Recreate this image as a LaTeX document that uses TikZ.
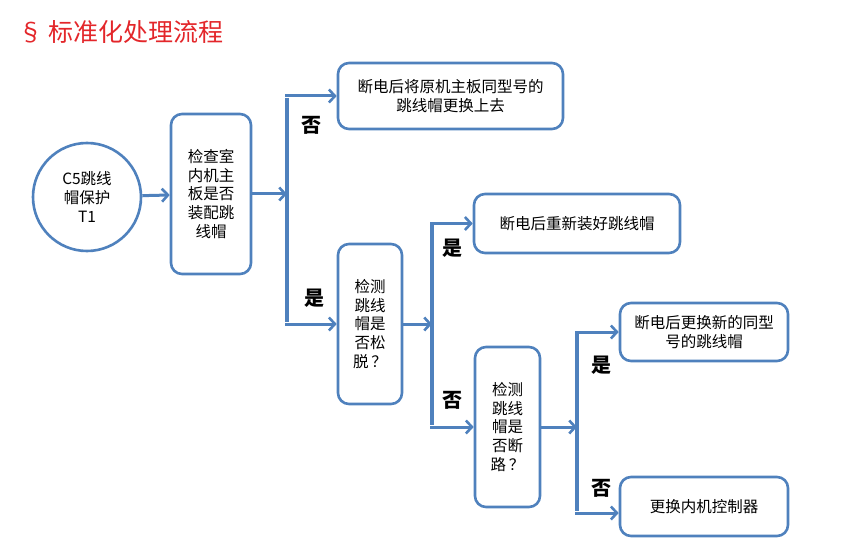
\documentclass[tikz,border=0pt]{standalone}
\usepackage{fontspec}
\setmainfont{Noto Sans CJK SC}
\usetikzlibrary{arrows.meta}
\definecolor{lineblue}{HTML}{4F81BD}
\definecolor{titlered}{HTML}{E3262A}
\tikzset{
  box/.style={draw=lineblue, line width=2.6pt, rounded corners=11pt, fill=white,
    align=center, inner sep=0pt, font=\fontsize{15.5pt}{18.7pt}\selectfont},
  conn/.style={draw=lineblue, line width=3pt, -{Straight Barb[length=6pt,width=13pt,line width=2.6pt]}},
  trunk/.style={draw=lineblue, line width=4pt},
  lbl/.style={font=\fontsize{20pt}{20pt}\selectfont\bfseries, text=black, inner sep=0pt},
}
\begin{document}
\begin{tikzpicture}[x=1pt,y=-1pt]
\useasboundingbox (0,0) rectangle (861,553);
\node[text=titlered, font=\fontsize{25pt}{26pt}\selectfont, anchor=west, inner sep=0pt] (title) at (18,32) {§ 标准化处理流程};

\node[box, circle, minimum size=108pt, rounded corners=0pt] (c) at (87,197) {C5跳线\\帽保护\\T1};
\node[box, minimum width=80pt, minimum height=160pt] (b1) at (211,194) {检查室\\内机主\\板是否\\装配跳\\线帽};
\node[box, minimum width=225pt, minimum height=66pt] (ba) at (450.5,96) {断电后将原机主板同型号的\\跳线帽更换上去};
\node[box, minimum width=64pt, minimum height=160pt] (b2) at (370,324) {检测\\跳线\\帽是\\否松\\脱\,？};
\node[box, minimum width=206pt, minimum height=59pt] (b3) at (577,223.5) {断电后重新装好跳线帽};
\node[box, minimum width=65pt, minimum height=160pt] (b4) at (507.5,427) {检测\\跳线\\帽是\\否断\\路\,？};
\node[box, minimum width=168pt, minimum height=58pt] (b5) at (704,332) {断电后更换新的同型\\号的跳线帽};
\node[box, minimum width=168pt, minimum height=59pt] (b6) at (704,506.5) {更换内机控制器};

% level 1
\coordinate (j1) at (287,194);
\coordinate (j1t) at (287,96);
\coordinate (j1b) at (287,324);
\draw[conn] (c) -- (b1);
\draw[conn] (b1.east) -- (j1);
\draw[trunk] ([yshift=-2pt]j1t) -- ([yshift=2pt]j1b);
\draw[conn] ([xshift=-2pt]j1t) -- (ba.west);
\draw[conn] ([xshift=-2pt]j1b) -- (b2.west);

% level 2
\coordinate (j2) at (432,324);
\coordinate (j2t) at (432,223.5);
\coordinate (j2b) at (432,427);
\draw[conn] (b2.east) -- (j2);
\draw[trunk] ([yshift=-2pt]j2t) -- ([yshift=2pt]j2b);
\draw[conn] ([xshift=-2pt]j2t) -- (b3.west);
\draw[conn] ([xshift=-2pt]j2b) -- (b4.west);

% level 3
\coordinate (j3) at (577,427);
\coordinate (j3t) at (577,332);
\coordinate (j3b) at (577,513);
\draw[conn] (b4.east) -- (j3);
\draw[trunk] ([yshift=-2pt]j3t) -- ([yshift=2pt]j3b);
\draw[conn] ([xshift=-2pt]j3t) -- (b5.west);
\draw[conn] ([xshift=-2pt]j3b) -- (b6.west |- j3b);

% labels
\node[lbl] (l1) at (311,125) {否};
\node[lbl] (l2) at (314,298) {是};
\node[lbl] (l3) at (452,248) {是};
\node[lbl] (l4) at (452,400) {否};
\node[lbl] (l5) at (601,365) {是};
\node[lbl] (l6) at (601,488) {否};
\end{tikzpicture}
\end{document}
